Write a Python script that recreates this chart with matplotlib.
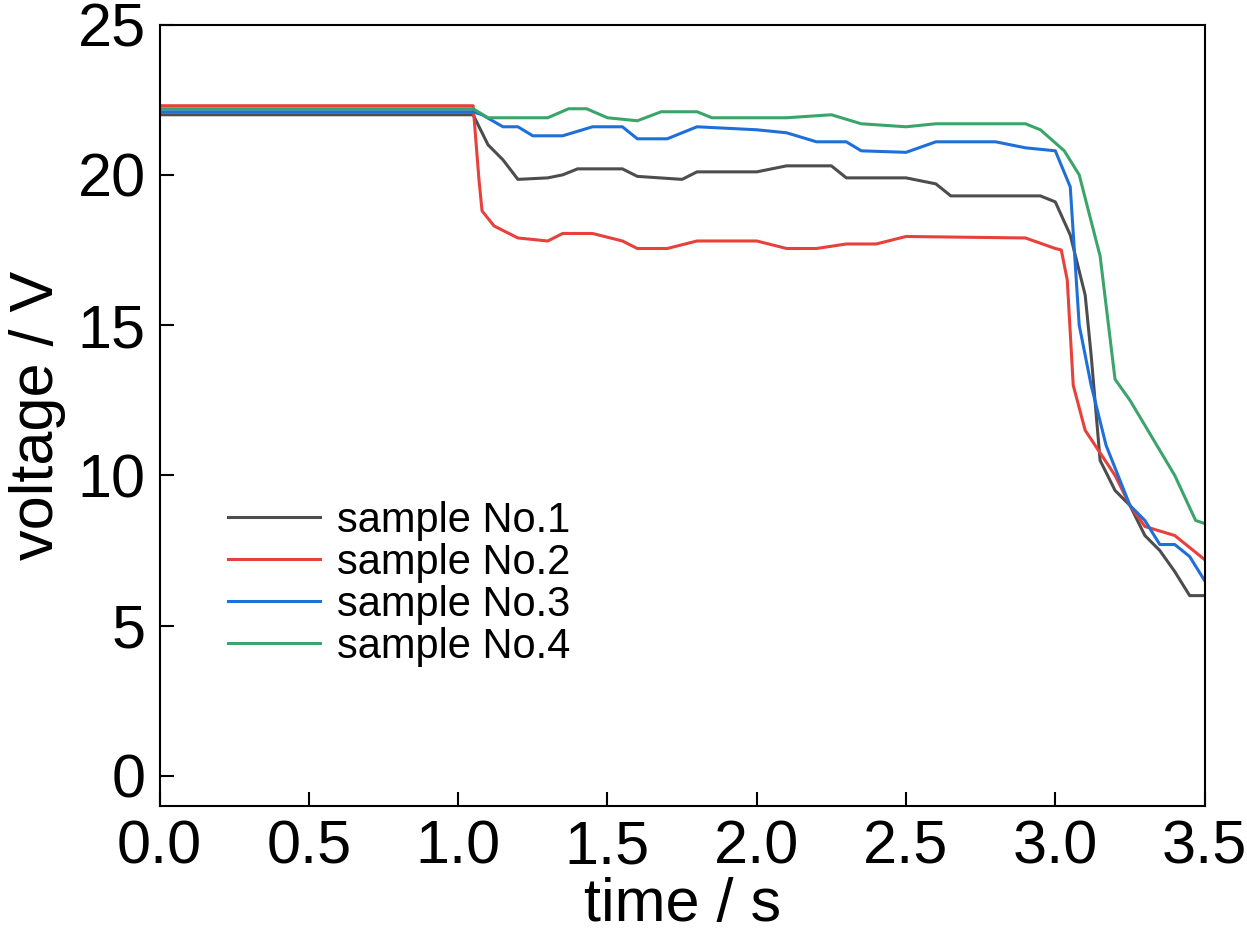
import matplotlib.pyplot as plt

plt.rcParams['font.family'] = ['Liberation Sans Narrow', 'Liberation Sans', 'DejaVu Sans']

t1 = [0, 1.05, 1.1, 1.15, 1.2, 1.3, 1.35, 1.4, 1.55, 1.6, 1.75, 1.8, 2.0, 2.1, 2.25, 2.3, 2.5, 2.6, 2.65, 2.95, 3.0,
      3.05, 3.1, 3.12, 3.15, 3.2, 3.25, 3.3, 3.35, 3.4, 3.45, 3.5]
v1 = [22.0, 22.0, 21.0, 20.5, 19.85, 19.9, 20.0, 20.2, 20.2, 19.95, 19.85, 20.1, 20.1, 20.3, 20.3, 19.9, 19.9, 19.7,
      19.3, 19.3, 19.1, 18.0, 16.0, 14.0, 10.5, 9.5, 9.0, 8.0, 7.5, 6.8, 6.0, 6.0]

t2 = [0, 1.05, 1.07, 1.08, 1.12, 1.2, 1.3, 1.35, 1.45, 1.55, 1.6, 1.7, 1.8, 2.0, 2.1, 2.2, 2.3, 2.4, 2.5, 2.9, 3.0,
      3.02, 3.04, 3.06, 3.1, 3.2, 3.25, 3.3, 3.4, 3.5]
v2 = [22.3, 22.3, 19.8, 18.8, 18.3, 17.9, 17.8, 18.05, 18.05, 17.8, 17.55, 17.55, 17.8, 17.8, 17.55, 17.55, 17.7,
      17.7, 17.95, 17.9, 17.55, 17.5, 16.5, 13.0, 11.5, 10.0, 9.0, 8.3, 8.0, 7.2]

t3 = [0, 1.05, 1.08, 1.15, 1.2, 1.25, 1.35, 1.45, 1.55, 1.6, 1.7, 1.8, 2.0, 2.1, 2.2, 2.3, 2.35, 2.5, 2.6, 2.8, 2.9,
      3.0, 3.05, 3.08, 3.12, 3.17, 3.25, 3.3, 3.35, 3.4, 3.45, 3.5]
v3 = [22.1, 22.1, 22.0, 21.6, 21.6, 21.3, 21.3, 21.6, 21.6, 21.2, 21.2, 21.6, 21.5, 21.4, 21.1, 21.1, 20.8, 20.75,
      21.1, 21.1, 20.9, 20.8, 19.6, 15.0, 13.0, 11.0, 9.0, 8.5, 7.7, 7.7, 7.3, 6.5]

t4 = [0, 1.05, 1.1, 1.3, 1.37, 1.43, 1.5, 1.6, 1.68, 1.8, 1.85, 2.1, 2.25, 2.35, 2.5, 2.6, 2.9, 2.95, 3.03, 3.08,
      3.15, 3.2, 3.25, 3.4, 3.47, 3.5]
v4 = [22.2, 22.2, 21.9, 21.9, 22.2, 22.2, 21.9, 21.8, 22.1, 22.1, 21.9, 21.9, 22.0, 21.7, 21.6, 21.7, 21.7, 21.5,
      20.8, 20.0, 17.3, 13.2, 12.5, 10.0, 8.5, 8.4]

labels = ['sample No.1', 'sample No.2', 'sample No.3', 'sample No.4']
colors = ['#4d4d4d', '#e8403a', '#1f6fd8', '#3aa56a']

fig, ax = plt.subplots(figsize=(12.47, 9.46), dpi=100)
fig.subplots_adjust(left=0.128, right=0.966, top=0.974, bottom=0.148)

for t, v, lab, c in zip([t1, t2, t3, t4], [v1, v2, v3, v4], labels, colors):
    ax.plot(t, v, color=c, lw=2.2, label=lab)

ax.set_xlim(0, 3.5)
ax.set_ylim(-1, 25)
ax.set_xticks([0, 0.5, 1.0, 1.5, 2.0, 2.5, 3.0, 3.5])
ax.set_yticks([0, 5, 10, 15, 20, 25])
ax.tick_params(direction='in', length=10, width=1.5, labelsize=44, pad=10)
for s in ax.spines.values():
    s.set_linewidth(1.5)
ax.set_xlabel('time / s', fontsize=44, labelpad=0)
ax.set_ylabel('voltage / V', fontsize=44, labelpad=8)
ax.legend(loc='lower left', bbox_to_anchor=(0.03, 0.13), frameon=False, fontsize=30,
          handlelength=2.2, handletextpad=0.4, labelspacing=0.05)

fig.savefig('out.png')
